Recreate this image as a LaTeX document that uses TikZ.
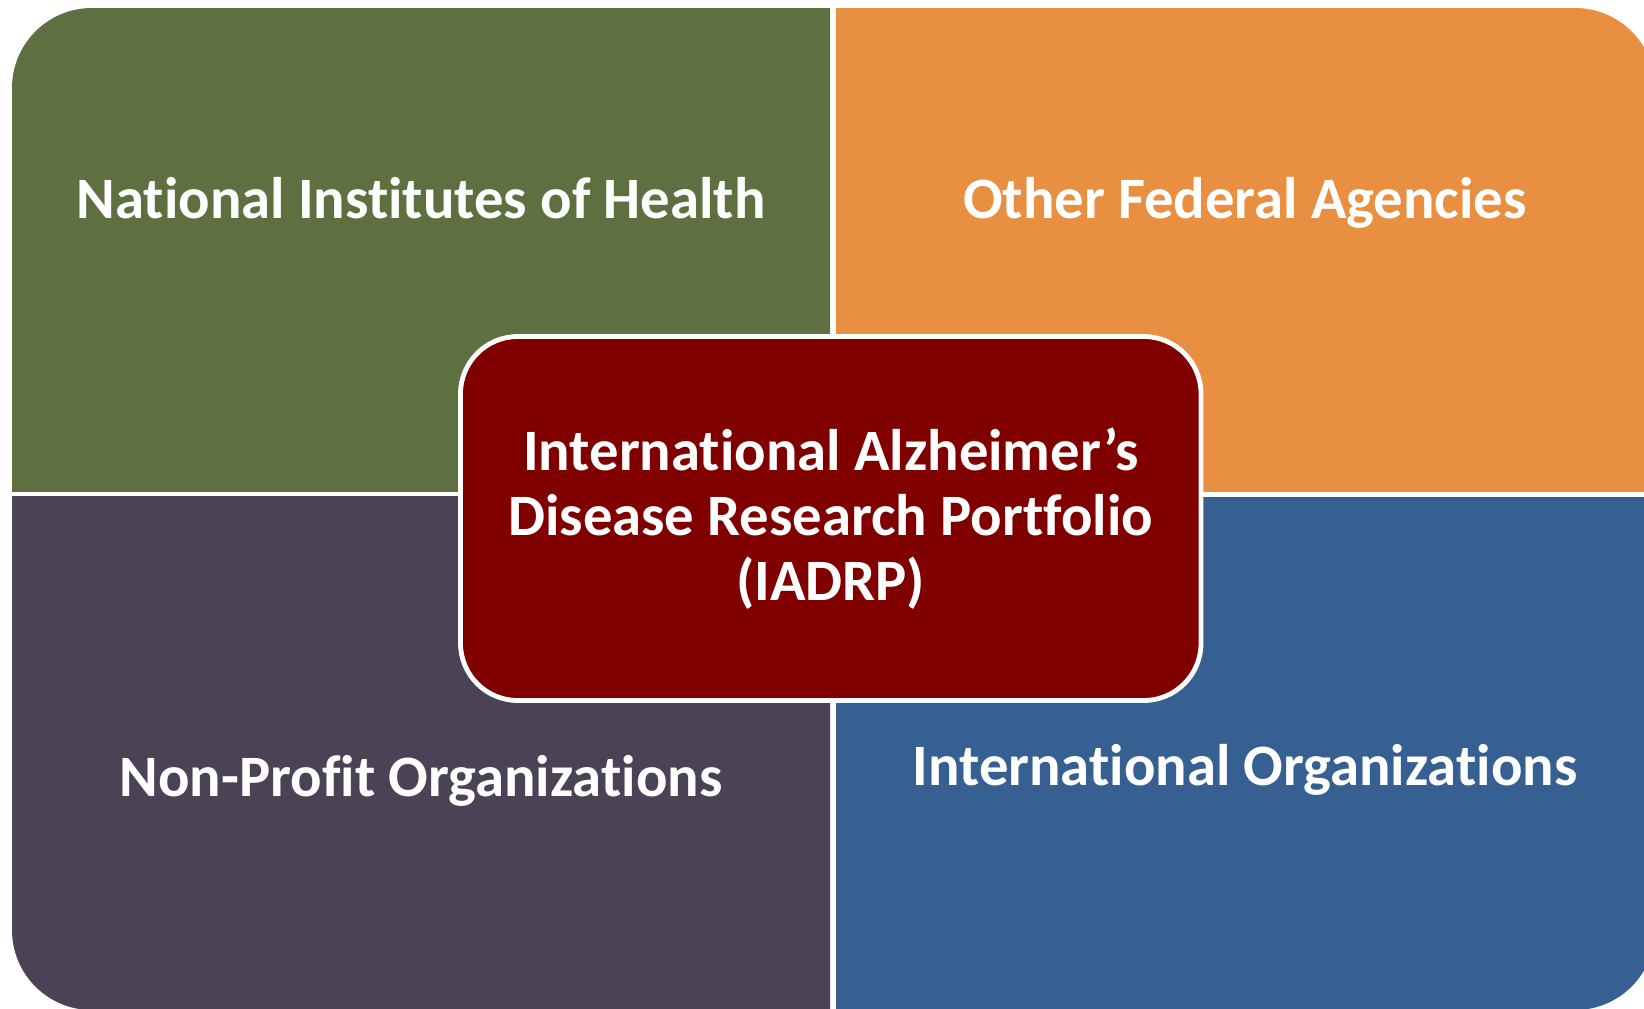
\documentclass[tikz,border=0pt]{standalone}
\usepackage{fontspec}
\setmainfont[Ligatures={NoCommon}]{Carlito}
\definecolor{qgreen}{HTML}{5F7040}
\definecolor{qorange}{HTML}{E98F42}
\definecolor{qpurple}{HTML}{4B4355}
\definecolor{qblue}{HTML}{366092}
\definecolor{qmaroon}{HTML}{800000}
\tikzset{
  qlabel/.style={text=white, font=\fontsize{44}{48}\selectfont\bfseries, inner sep=0pt, anchor=base},
  hub/.style={draw=white, line width=3.6pt, fill=qmaroon, rounded corners=43pt,
    minimum width=555.4pt, minimum height=273pt, inner sep=0pt,
    text=white, align=center, font=\fontsize{44}{48.75}\selectfont\bfseries}
}
\begin{document}
\begin{tikzpicture}[x=0.75pt,y=-0.75pt]
\useasboundingbox (0,0) rectangle (1644,1008);
\fill[white] (0,0) rectangle (1644,1008);
% quadrants: one rounded rectangle clipped into four parts
\begin{scope}
  \clip (12,8) rectangle (830,491);
  \fill[qgreen, rounded corners=60pt] (12,8) rectangle (1655,1010);
\end{scope}
\begin{scope}
  \clip (836,8) rectangle (1660,491);
  \fill[qorange, rounded corners=60pt] (12,8) rectangle (1655,1010);
\end{scope}
\begin{scope}
  \clip (12,496) rectangle (830,1015);
  \fill[qpurple, rounded corners=60pt] (12,8) rectangle (1655,1010);
\end{scope}
\begin{scope}
  \clip (836,497) rectangle (1660,1015);
  \fill[qblue, rounded corners=60pt] (12,8) rectangle (1655,1010);
\end{scope}
\node[qlabel] (nih) at (421,218) {National Institutes of Health};
\node[qlabel] (ofa) at (1245,218) {Other Federal Agencies};
\node[qlabel] (npo) at (421,796) {Non-Profit Organizations};
\node[qlabel] (intl) at (1245,785) {International Organizations};
\node[hub] (iadrp) at (830.75,518.5) {International Alzheimer’s\\Disease Research Portfolio\\(IADRP)};
\end{tikzpicture}
\end{document}
